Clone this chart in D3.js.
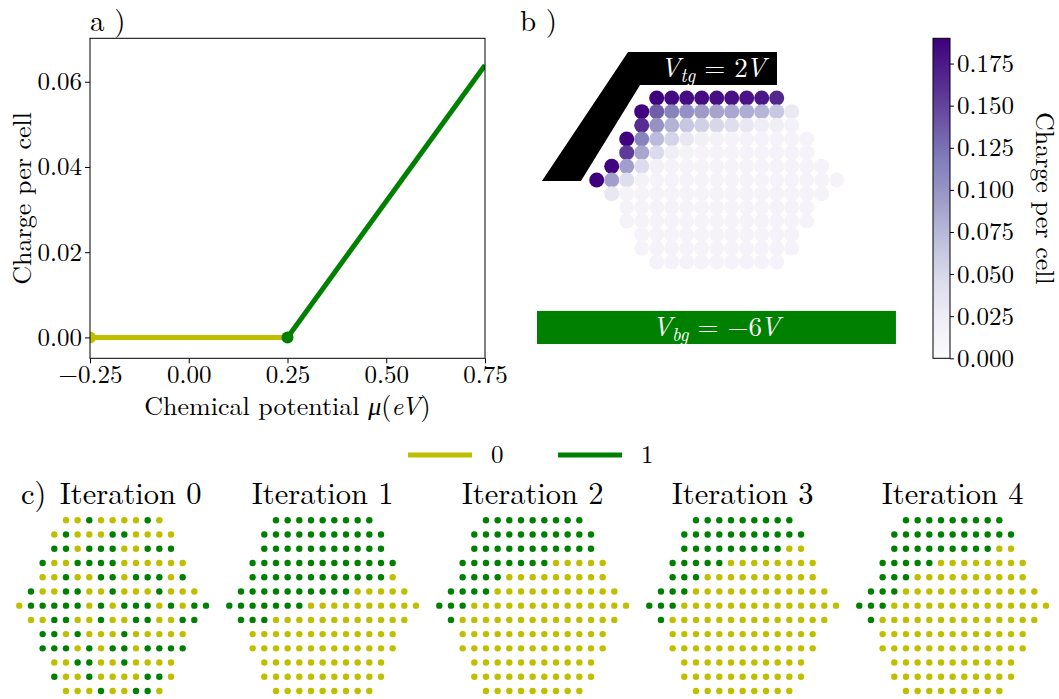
<!DOCTYPE html>
<html>
<head>
<meta charset="utf-8">
<script src="https://cdn.jsdelivr.net/npm/d3@7"></script>
<style>
  body { margin: 0; background: #fff; }
  svg { display: block; }
  svg text { font-family: "Latin Modern Roman", "Liberation Serif", serif !important; fill: #000; }
</style>
</head>
<body>
<svg id="fig" width="1059" height="699"></svg>
<script>
// ---------- panel a: charge vs chemical potential ----------
const muTicks = [-0.25, 0, 0.25, 0.5, 0.75];
const chargeTicks = [0, 0.02, 0.04, 0.06];
const state0Mu = [-0.25, 0.25];
const state0Charge = [0, 0];
const state1Mu = [0.25, 0.75];
const state1Charge = [0, 0.0639];

// ---------- lattice geometry (first column of every row) ----------
const rowFirstCol = [4, 3, 3, 2, 2, 1, 0, 1, 2, 2, 3, 3, 4];

// ---------- panel b: charge per cell on each site ----------
const chargeRows = [
  [0.190, 0.184, 0.182, 0.182, 0.181, 0.180, 0.178, 0.176, 0.166],
  [0.188, 0.136, 0.113, 0.102, 0.094, 0.089, 0.086, 0.082, 0.077, 0.063, 0.028],
  [0.163, 0.101, 0.078, 0.063, 0.055, 0.050, 0.042, 0.031, 0.024, 0.020, 0.016],
  [0.189, 0.113, 0.072, 0.052, 0.031, 0.019, 0.015, 0.013, 0.013, 0.013, 0.013, 0.013, 0.013],
  [0.155, 0.087, 0.046, 0.021, 0.014, 0.013, 0.013, 0.013, 0.013, 0.013, 0.013, 0.013, 0.013],
  [0.188, 0.092, 0.045, 0.017, 0.013, 0.013, 0.013, 0.013, 0.013, 0.013, 0.013, 0.013, 0.013, 0.013, 0.013],
  [0.190, 0.092, 0.042, 0.015, 0.013, 0.013, 0.013, 0.013, 0.013, 0.013, 0.013, 0.013, 0.013, 0.013, 0.013, 0.013, 0.013],
  [0.030, 0.013, 0.013, 0.013, 0.013, 0.013, 0.013, 0.013, 0.013, 0.013, 0.013, 0.013, 0.013, 0.013, 0.013],
  [0.013, 0.013, 0.013, 0.013, 0.013, 0.013, 0.013, 0.013, 0.013, 0.013, 0.013, 0.013, 0.013],
  [0.013, 0.013, 0.013, 0.013, 0.013, 0.013, 0.013, 0.013, 0.013, 0.013, 0.013, 0.013, 0.013],
  [0.013, 0.013, 0.013, 0.013, 0.013, 0.013, 0.013, 0.013, 0.013, 0.013, 0.013],
  [0.013, 0.013, 0.013, 0.013, 0.013, 0.013, 0.013, 0.013, 0.013, 0.013, 0.013],
  [0.013, 0.013, 0.013, 0.013, 0.013, 0.013, 0.013, 0.013, 0.013]
];
const colorbarTicks = [0, 0.025, 0.05, 0.075, 0.1, 0.125, 0.15, 0.175];
const topGateValue = "2";
const backGateValue = "\u22126";

// ---------- panel c: occupied state (1) or empty state (0) per site ----------
const iterationNames = ["Iteration 0", "Iteration 1", "Iteration 2", "Iteration 3", "Iteration 4"];
const iterationStates = [
  ["001000010", "01000110000", "11011100111", "1001111000000", "0010011011101",
   "100110010001000", "01111101011101011", "001100100110011", "1101000100000",
   "1110101101111", "00110010000", "10010000110", "000100110"],
  ["111111111", "11111111111", "11111111111", "1111111111111", "1111111111110",
   "111111111100000", "11111110000000000", "111000000000000", "0000000000000",
   "0000000000000", "00000000000", "00000000000", "000000000"],
  ["111111111", "11111111111", "11111111111", "1111111100000", "1111000000000",
   "111100000000000", "11100000000000000", "100000000000000", "0000000000000",
   "0000000000000", "00000000000", "00000000000", "000000000"],
  ["111111111", "11111111111", "11111111100", "1111100000000", "1110000000000",
   "111000000000000", "11100000000000000", "100000000000000", "0000000000000",
   "0000000000000", "00000000000", "00000000000", "000000000"],
  ["111111111", "11111111111", "11111111100", "1111100000000", "1110000000000",
   "111000000000000", "11100000000000000", "100000000000000", "0000000000000",
   "0000000000000", "00000000000", "00000000000", "000000000"]
];
const legendStates = ["0", "1"];

const YELLOW = "#bfbf00";
const GREEN = "#008000";
const stateColor = s => (s === "1" ? GREEN : YELLOW);

const svg = d3.select("#fig");
const FS = 25;

// ===================== panel a =====================
const ax = { left: 90, right: 485, top: 38.3, bottom: 358.3 };
const xA = d3.scaleLinear().domain([-0.25, 0.75]).range([ax.left, ax.right]);
const yA = d3.scaleLinear().domain([-0.0049, 0.0702]).range([ax.bottom, ax.top]);

const defs = svg.append("defs");
defs.append("clipPath").attr("id", "clipA")
  .append("rect").attr("x", ax.left).attr("y", ax.top)
  .attr("width", ax.right - ax.left).attr("height", ax.bottom - ax.top);

const gA = svg.append("g");
const plotA = gA.append("g").attr("clip-path", "url(#clipA)");
const line = d3.line().x(d => xA(d[0])).y(d => yA(d[1]));
const seg0 = state0Mu.map((m, i) => [m, state0Charge[i]]);
const seg1 = state1Mu.map((m, i) => [m, state1Charge[i]]);
plotA.append("path").attr("d", line(seg0)).attr("fill", "none")
  .attr("stroke", YELLOW).attr("stroke-width", 5);
plotA.append("path").attr("d", line(seg1)).attr("fill", "none")
  .attr("stroke", GREEN).attr("stroke-width", 5);
plotA.append("circle").attr("cx", xA(seg0[0][0])).attr("cy", yA(seg0[0][1]))
  .attr("r", 6).attr("fill", YELLOW);
plotA.append("circle").attr("cx", xA(seg1[0][0])).attr("cy", yA(seg1[0][1]))
  .attr("r", 6).attr("fill", GREEN);

const minus = s => s.replace("-", "\u2212");
const xAxisA = gA.append("g").attr("transform", `translate(0,${ax.bottom})`)
  .call(d3.axisBottom(xA).tickValues(muTicks).tickSize(5).tickFormat(d => minus(d3.format(".2f")(d))));
const yAxisA = gA.append("g").attr("transform", `translate(${ax.left},0)`)
  .call(d3.axisLeft(yA).tickValues(chargeTicks).tickSize(5).tickFormat(d3.format(".2f")));
[xAxisA, yAxisA].forEach(a => {
  a.attr("font-family", null).attr("font-size", null);
  a.select(".domain").remove();
  a.selectAll("text").attr("font-size", FS);
});
xAxisA.selectAll("text").attr("dy", "0.68em");
gA.append("rect").attr("x", ax.left).attr("y", ax.top)
  .attr("width", ax.right - ax.left).attr("height", ax.bottom - ax.top)
  .attr("fill", "none").attr("stroke", "#000").attr("stroke-width", 1);

const xl = gA.append("text").attr("x", (ax.left + ax.right) / 2).attr("y", 415)
  .attr("text-anchor", "middle").attr("font-size", 26);
xl.append("tspan").text("Chemical potential ");
xl.append("tspan").attr("font-style", "italic").text("\u03bc");
xl.append("tspan").text("(");
xl.append("tspan").attr("font-style", "italic").text("eV");
xl.append("tspan").text(")");

gA.append("text").attr("transform", `translate(31,${(ax.top + ax.bottom) / 2}) rotate(-90)`)
  .attr("text-anchor", "middle").attr("font-size", 26).text("Charge per cell");
gA.append("text").attr("x", 90).attr("y", 31).attr("font-size", 29).text("a )");

// ===================== panel b =====================
const chargeMax = d3.max(chargeRows.flat());
const purples = d3.piecewise(d3.interpolateRgb, d3.schemePurples[9]);
const color = d3.scaleSequential(purples).domain([0, chargeMax]);
const xB = d3.scaleLinear().domain([0, 16]).range([596.7, 836.7]);
const yB = d3.scaleLinear().domain([0, 12]).range([98, 262]);
const gB = svg.append("g");

// top gate outline, in lattice units
const topGate = [[2.09, -3.37], [12.02, -3.37], [12.02, -0.95], [2.89, -0.95], [-1.05, 6.07], [-3.65, 6.07]];
gB.append("path")
  .attr("d", d3.line().x(d => xB(d[0])).y(d => yB(d[1]))(topGate) + "Z")
  .attr("fill", "#000");
const backGate = { x0: -3.98, x1: 19.95, y0: 15.58, y1: 18.0 };
gB.append("rect").attr("x", xB(backGate.x0)).attr("y", yB(backGate.y0))
  .attr("width", xB(backGate.x1) - xB(backGate.x0)).attr("height", yB(backGate.y1) - yB(backGate.y0))
  .attr("fill", GREEN);

const sitesB = [];
chargeRows.forEach((vals, r) => vals.forEach((v, i) => sitesB.push({ col: rowFirstCol[r] + i, row: r, v })));
gB.selectAll("circle.site").data(sitesB).join("circle").attr("class", "site")
  .attr("cx", d => xB(d.col)).attr("cy", d => yB(d.row)).attr("r", 7.5)
  .attr("fill", d => color(d.v));

function gateLabel(g, x, y, sub, value) {
  const t = g.append("text").attr("x", x).attr("y", y).attr("text-anchor", "middle")
    .attr("font-size", 27).style("fill", "#fff");
  t.append("tspan").attr("font-style", "italic").text("V");
  t.append("tspan").attr("font-style", "italic").attr("font-size", 19).attr("dy", 5).text(sub);
  t.append("tspan").attr("dy", -5).text(" = " + value);
  t.append("tspan").attr("font-style", "italic").attr("dx", -2).text("V");
}
gateLabel(gB, 713, 77, "tg", topGateValue);
gateLabel(gB, 716, 336, "bg", backGateValue);
gB.append("text").attr("x", 520).attr("y", 31).attr("font-size", 29).text("b )");

// colorbar
const cb = { x: 933, w: 17, top: 38.3, bottom: 358.3 };
const yC = d3.scaleLinear().domain([0, chargeMax]).range([cb.bottom, cb.top]);
const grad = defs.append("linearGradient").attr("id", "cbarGrad")
  .attr("x1", 0).attr("y1", 1).attr("x2", 0).attr("y2", 0);
d3.range(0, 1.0001, 0.025).forEach(t => grad.append("stop")
  .attr("offset", t).attr("stop-color", purples(t)));
gB.append("rect").attr("x", cb.x).attr("y", cb.top).attr("width", cb.w)
  .attr("height", cb.bottom - cb.top).attr("fill", "url(#cbarGrad)")
  .attr("stroke", "#000").attr("stroke-width", 1);
const cAxis = gB.append("g").attr("transform", `translate(${cb.x + cb.w},0)`)
  .call(d3.axisRight(yC).tickValues(colorbarTicks).tickSize(4).tickFormat(d3.format(".3f")));
cAxis.attr("font-family", null).attr("font-size", null);
cAxis.select(".domain").remove();
cAxis.selectAll("text").attr("font-size", FS);
gB.append("text").attr("transform", `translate(1036,${(cb.top + cb.bottom) / 2}) rotate(90)`)
  .attr("text-anchor", "middle").attr("font-size", 26).text("Charge per cell");

// ===================== legend =====================
const legend = svg.append("g");
const legendX = [408, 558];
legendStates.forEach((s, i) => {
  legend.append("line").attr("x1", legendX[i]).attr("x2", legendX[i] + 64)
    .attr("y1", 455).attr("y2", 455).attr("stroke", stateColor(s)).attr("stroke-width", 5);
  legend.append("text").attr("x", legendX[i] + 83).attr("y", 463).attr("font-size", FS).text(s);
});

// ===================== panel c =====================
iterationStates.forEach((rows, k) => {
  const g = svg.append("g");
  const xI = d3.scaleLinear().domain([0, 16]).range([19.3 + 210 * k, 206 + 210 * k]);
  const yI = d3.scaleLinear().domain([0, 12]).range([520.3, 691]);
  const sites = [];
  rows.forEach((str, r) => str.split("").forEach((s, i) => sites.push({ col: rowFirstCol[r] + i, row: r, s })));
  g.selectAll("circle").data(sites).join("circle")
    .attr("cx", d => xI(d.col)).attr("cy", d => yI(d.row)).attr("r", 3.2)
    .attr("fill", d => stateColor(d.s));
  g.append("text").attr("x", xI(8) + (k === 0 ? 18 : 0)).attr("y", 504).attr("text-anchor", "middle")
    .attr("font-size", 30.5).text(iterationNames[k]);
});
svg.append("text").attr("x", 21).attr("y", 504).attr("font-size", 30.5).text("c)");
</script>
</body>
</html>
